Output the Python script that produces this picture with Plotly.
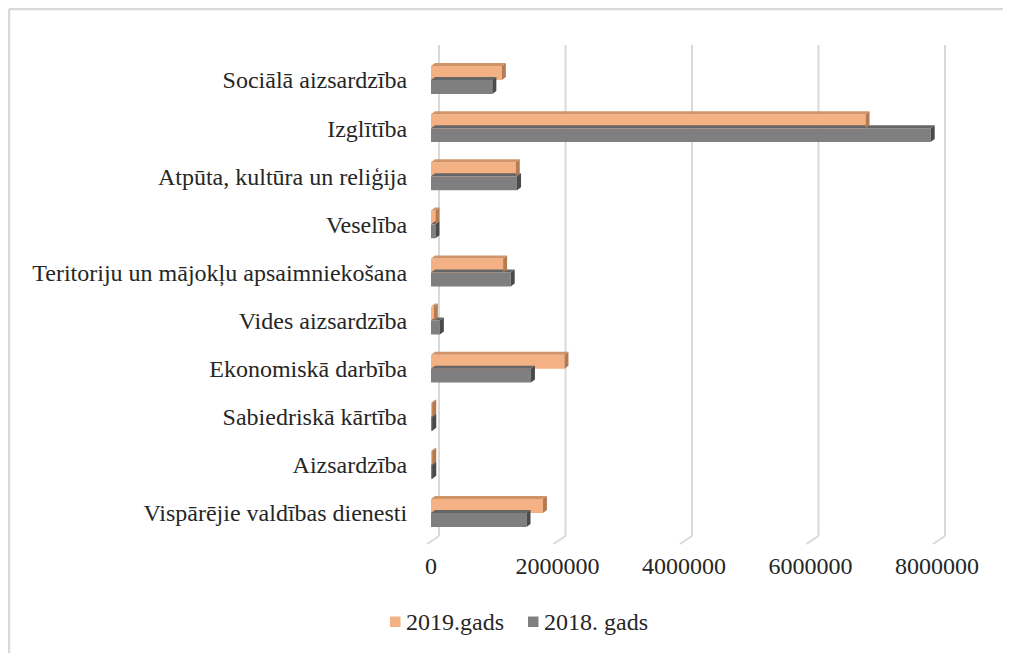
import plotly.graph_objects as go

categories = [
    "Vispārējie valdības dienesti",
    "Aizsardzība",
    "Sabiedriskā kārtība",
    "Ekonomiskā darbība",
    "Vides aizsardzība",
    "Teritoriju un mājokļu apsaimniekošana",
    "Veselība",
    "Atpūta, kultūra un reliģija",
    "Izglītība",
    "Sociālā aizsardzība",
]
values_2019 = [1770000, 20000, 20000, 2110000, 45000, 1140000, 70000, 1340000, 6870000, 1120000]
values_2018 = [1510000, 20000, 20000, 1580000, 140000, 1260000, 70000, 1360000, 7900000, 970000]
x_ticks = [0, 2000000, 4000000, 6000000, 8000000]
series_names = ["2019.gads", "2018. gads"]

OFF = 8  # page body margin
W, H = 1011 - OFF, 653 - OFF
L, R, T, B = 431 - OFF, 74, 56 - OFF, 116
plot_w = W - L - R
plot_h = H - T - B
x_max = 8000000


def px_x(px):  # absolute page pixel -> paper x
    return (px - OFF - L) / plot_w


def px_y(py):  # absolute page pixel -> paper y
    return (H - B + OFF - py) / plot_h


col19, col18 = "#F4B183", "#7F7F7F"
side19, top19 = "#B47B52", "#D09468"
side18, top18 = "#4A4A4A", "#666666"

fig = go.Figure()
fig.add_trace(go.Bar(y=categories, x=values_2018, orientation="h", name=series_names[1],
                     marker=dict(color=col18, line=dict(width=0)), showlegend=False))
fig.add_trace(go.Bar(y=categories, x=values_2019, orientation="h", name=series_names[0],
                     marker=dict(color=col19, line=dict(width=0)), showlegend=False))

shapes = []
# back-wall gridlines with slanted floor segments (3D look)
grid_col = "#D9D9D9"
back_off = 8 / plot_w
front_off = -4 / plot_w
for t in x_ticks:
    xb = t / x_max + back_off
    xf = t / x_max + front_off
    shapes.append(dict(type="line", xref="paper", yref="paper", layer="below",
                       x0=xb, x1=xb, y0=px_y(45), y1=px_y(536),
                       line=dict(color=grid_col, width=2)))
    shapes.append(dict(type="line", xref="paper", yref="paper", layer="below",
                       x0=xb, x1=xf, y0=px_y(536), y1=px_y(544),
                       line=dict(color=grid_col, width=2)))

# pseudo-3D depth faces computed from data values
bargap = 0.42
bw = (1 - bargap) / 2
dx = 4 * x_max / plot_w
dy = 3 * len(categories) / plot_h
for i in range(len(categories)):
    for vals, off, side, top in ((values_2018, -bw / 2, side18, top18), (values_2019, bw / 2, side19, top19)):
        v = vals[i]
        yc = i + off
        yb, yt = yc - bw / 2, yc + bw / 2
        shapes.append(dict(type="path", xref="x", yref="y", layer="above", line=dict(width=0),
                           fillcolor=top,
                           path=f"M 0,{yt} L {dx},{yt+dy} L {v+dx},{yt+dy} L {v},{yt} Z"))
        shapes.append(dict(type="path", xref="x", yref="y", layer="above", line=dict(width=0),
                           fillcolor=side,
                           path=f"M {v},{yb} L {v},{yt} L {v+dx},{yt+dy} L {v+dx},{yb+dy} Z"))

# outer chart frame (top and left edges visible)
fx0 = px_x(9)
fy0 = px_y(9)
shapes.append(dict(type="line", xref="paper", yref="paper", x0=fx0, x1=px_x(1020),
                   y0=fy0, y1=fy0, line=dict(color="#D9D9D9", width=2.5)))
shapes.append(dict(type="line", xref="paper", yref="paper", x0=fx0, x1=fx0,
                   y0=fy0, y1=px_y(660), line=dict(color="#D9D9D9", width=2.5)))

FONT = "Liberation Serif"
TXT = "#262626"
FS = 24

# custom legend: small squares close to the text
annotations = []
legend_items = [(series_names[0], col19, 390), (series_names[1], col18, 528)]
for name, col, x0 in legend_items:
    shapes.append(dict(type="rect", xref="paper", yref="paper", line=dict(width=0), fillcolor=col,
                       x0=px_x(x0), x1=px_x(x0 + 10.5), y0=px_y(616.5), y1=px_y(627)))
    annotations.append(dict(xref="paper", yref="paper", x=px_x(x0 + 14), y=px_y(621.5),
                            xanchor="left", yanchor="middle", showarrow=False, text=name,
                            font=dict(family=FONT, size=FS, color=TXT)))

fig.update_layout(
    width=W, height=H,
    margin=dict(l=L, r=R, t=T, b=B, pad=0),
    plot_bgcolor="white", paper_bgcolor="white",
    barmode="group", bargap=bargap, bargroupgap=0,
    font=dict(family=FONT, size=FS, color=TXT),
    shapes=shapes, annotations=annotations,
    showlegend=False,
)
fig.update_xaxes(range=[0, x_max], tickvals=x_ticks, ticktext=[str(t) for t in x_ticks],
                 tickfont=dict(family=FONT, size=FS, color=TXT),
                 showgrid=False, zeroline=False,
                 showline=False, ticks="outside", ticklen=7, tickcolor="rgba(0,0,0,0)",
                 fixedrange=True, automargin=False)
fig.update_yaxes(categoryorder="array", categoryarray=categories, showgrid=False,
                 tickfont=dict(family=FONT, size=FS, color=TXT),
                 zeroline=False, showline=False, ticks="outside", ticklen=18,
                 tickcolor="rgba(0,0,0,0)", range=[-0.5, len(categories) - 0.5],
                 automargin=False, fixedrange=True)

fig.write_html("out.html")
